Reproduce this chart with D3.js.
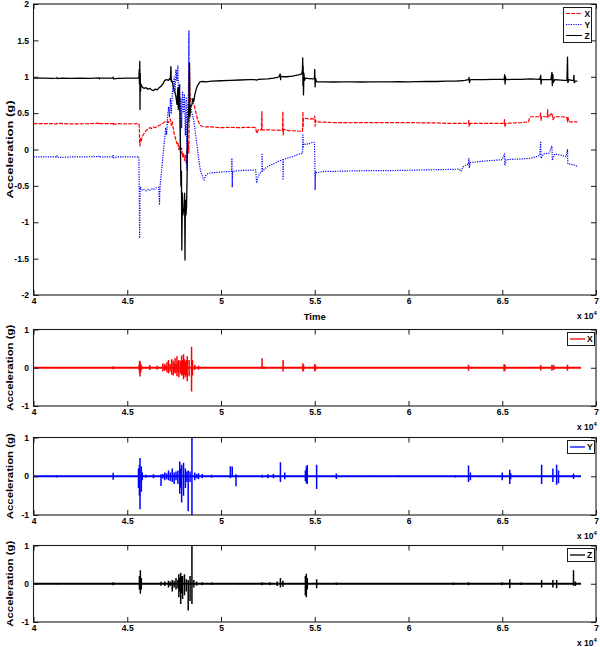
<!DOCTYPE html>
<html><head><meta charset="utf-8">
<script src="https://cdn.jsdelivr.net/npm/d3@7"></script>
<style>
body{margin:0;background:#fff}
svg{display:block}
text{font-family:"Liberation Sans",Arial,Helvetica,sans-serif;font-weight:bold;fill:#000}
</style>
</head><body>
<script>
// ---------------- DATA (time in units of 1e4) ----------------
const xTicks = [4, 4.5, 5, 5.5, 6, 6.5, 7];
const topYTicks = [-2, -1.5, -1, -0.5, 0, 0.5, 1, 1.5, 2];
const smallYTicks = [-1, 0, 1];
const seriesNames = ["X", "Y", "Z"];

// Top plot: raw acceleration, [time, g]
const rawX = [[4.00,0.355],[4.10,0.355],[4.123,0.35],[4.125,0.36],[4.20,0.352],[4.30,0.355],[4.35,0.36],[4.352,0.345],[4.355,0.355],[4.424,0.355],[4.425,0.37],[4.427,0.345],[4.45,0.355],[4.50,0.353],[4.56,0.355],[4.564,0.33],[4.566,0.1],[4.568,0.05],[4.57,0.15],[4.575,0.12],[4.58,0.18],[4.59,0.22],[4.60,0.26],[4.61,0.28],[4.62,0.3],[4.63,0.29],[4.64,0.31],[4.65,0.3],[4.66,0.32],[4.67,0.33],[4.68,0.34],[4.69,0.36],[4.70,0.38],[4.71,0.39],[4.72,0.37],[4.73,0.42],[4.735,0.33],[4.74,0.38],[4.745,0.3],[4.75,0.22],[4.755,0.18],[4.76,0.12],[4.765,0.08],[4.77,0.1],[4.775,0.0],[4.78,0.05],[4.785,-0.05],[4.79,0.02],[4.795,-0.1],[4.80,-0.05],[4.805,-0.15],[4.81,-0.08],[4.815,-0.2],[4.82,0.0],[4.825,0.1],[4.828,-0.05],[4.83,0.3],[4.832,1.18],[4.834,0.8],[4.836,0.65],[4.84,0.7],[4.845,0.68],[4.85,0.66],[4.855,0.62],[4.86,0.58],[4.865,0.52],[4.87,0.46],[4.875,0.42],[4.88,0.38],[4.885,0.35],[4.89,0.33],[4.90,0.32],[4.92,0.31],[4.95,0.31],[5.00,0.3],[5.05,0.305],[5.10,0.3],[5.15,0.305],[5.185,0.3],[5.19,0.22],[5.195,0.25],[5.20,0.27],[5.215,0.27],[5.218,0.52],[5.22,0.27],[5.25,0.27],[5.30,0.265],[5.328,0.26],[5.330,0.52],[5.332,0.2],[5.334,0.28],[5.36,0.26],[5.40,0.255],[5.43,0.25],[5.435,0.25],[5.437,0.52],[5.438,0.3],[5.44,0.43],[5.45,0.43],[5.47,0.42],[5.49,0.42],[5.499,0.42],[5.5,0.46],[5.502,0.32],[5.505,0.4],[5.51,0.38],[5.55,0.375],[5.60,0.37],[5.65,0.37],[5.70,0.368],[5.75,0.37],[5.80,0.37],[5.85,0.37],[5.90,0.368],[5.95,0.37],[6.00,0.37],[6.05,0.368],[6.10,0.365],[6.15,0.365],[6.20,0.36],[6.25,0.36],[6.30,0.36],[6.32,0.36],[6.322,0.4],[6.324,0.32],[6.33,0.36],[6.40,0.36],[6.45,0.36],[6.50,0.36],[6.51,0.36],[6.512,0.41],[6.514,0.31],[6.52,0.36],[6.60,0.37],[6.64,0.38],[6.645,0.43],[6.65,0.45],[6.70,0.45],[6.705,0.5],[6.707,0.4],[6.71,0.45],[6.74,0.45],[6.742,0.55],[6.744,0.44],[6.765,0.5],[6.77,0.41],[6.78,0.45],[6.82,0.45],[6.845,0.44],[6.848,0.38],[6.85,0.45],[6.855,0.38],[6.87,0.38],[6.90,0.38]];

const rawY = [[4.00,-0.1],[4.10,-0.1],[4.123,-0.1],[4.125,-0.085],[4.127,-0.11],[4.20,-0.102],[4.30,-0.1],[4.35,-0.095],[4.352,-0.11],[4.355,-0.1],[4.424,-0.1],[4.425,-0.08],[4.427,-0.115],[4.45,-0.1],[4.55,-0.1],[4.562,-0.1],[4.564,-0.5],[4.566,-1.22],[4.568,-0.6],[4.57,-0.52],[4.58,-0.56],[4.59,-0.55],[4.60,-0.57],[4.61,-0.55],[4.62,-0.56],[4.63,-0.54],[4.64,-0.55],[4.65,-0.53],[4.668,-0.52],[4.672,-0.76],[4.675,-0.5],[4.68,-0.38],[4.685,-0.25],[4.69,-0.1],[4.695,0.05],[4.70,0.15],[4.705,0.3],[4.71,0.2],[4.715,0.45],[4.72,0.58],[4.725,0.45],[4.73,0.7],[4.735,0.5],[4.74,0.75],[4.745,0.9],[4.75,1.0],[4.755,0.8],[4.76,1.1],[4.765,0.95],[4.77,1.15],[4.775,0.6],[4.78,0.9],[4.783,0.1],[4.786,0.7],[4.79,0.3],[4.795,0.8],[4.80,0.5],[4.805,0.75],[4.81,0.2],[4.815,0.72],[4.818,-0.28],[4.822,0.6],[4.826,0.7],[4.829,1.63],[4.831,0.4],[4.835,0.62],[4.84,0.55],[4.845,0.5],[4.85,0.45],[4.855,0.4],[4.86,0.3],[4.865,0.2],[4.87,0.1],[4.875,0.0],[4.88,-0.1],[4.885,-0.2],[4.89,-0.28],[4.895,-0.33],[4.90,-0.36],[4.905,-0.4],[4.91,-0.42],[4.915,-0.38],[4.92,-0.35],[4.93,-0.33],[4.95,-0.32],[5.00,-0.31],[5.05,-0.3],[5.057,-0.3],[5.058,-0.12],[5.06,-0.52],[5.062,-0.3],[5.10,-0.29],[5.15,-0.285],[5.185,-0.28],[5.19,-0.46],[5.195,-0.4],[5.20,-0.36],[5.21,-0.32],[5.218,-0.3],[5.219,-0.05],[5.221,-0.3],[5.24,-0.25],[5.26,-0.22],[5.28,-0.2],[5.30,-0.17],[5.32,-0.15],[5.33,-0.14],[5.331,-0.42],[5.333,-0.14],[5.35,-0.12],[5.38,-0.1],[5.40,-0.08],[5.42,-0.06],[5.435,-0.05],[5.437,0.2],[5.439,0.02],[5.44,0.08],[5.45,0.07],[5.47,0.08],[5.49,0.1],[5.498,0.1],[5.5,-0.05],[5.502,-0.55],[5.504,-0.3],[5.51,-0.32],[5.55,-0.3],[5.60,-0.3],[5.70,-0.295],[5.80,-0.29],[5.90,-0.29],[6.00,-0.285],[6.10,-0.28],[6.20,-0.275],[6.27,-0.27],[6.28,-0.3],[6.29,-0.24],[6.30,-0.22],[6.32,-0.2],[6.322,-0.12],[6.324,-0.25],[6.33,-0.18],[6.40,-0.16],[6.45,-0.15],[6.50,-0.14],[6.512,-0.06],[6.514,-0.22],[6.52,-0.14],[6.60,-0.13],[6.65,-0.12],[6.68,-0.1],[6.70,-0.08],[6.705,0.1],[6.707,-0.12],[6.72,-0.06],[6.75,-0.05],[6.765,0.05],[6.767,-0.15],[6.78,-0.06],[6.82,-0.08],[6.84,-0.1],[6.848,0.0],[6.85,-0.2],[6.86,-0.2],[6.88,-0.21],[6.90,-0.23]];

const rawZ = [[4.00,0.98],[4.05,0.982],[4.10,0.978],[4.123,0.98],[4.125,0.99],[4.127,0.975],[4.15,0.98],[4.20,0.977],[4.25,0.98],[4.30,0.978],[4.35,0.985],[4.352,0.97],[4.355,0.98],[4.40,0.98],[4.424,0.98],[4.425,0.995],[4.427,0.97],[4.45,0.978],[4.50,0.98],[4.55,0.98],[4.562,0.98],[4.564,1.1],[4.565,0.9],[4.567,1.21],[4.568,0.55],[4.569,1.05],[4.571,0.8],[4.573,0.9],[4.58,0.86],[4.59,0.84],[4.60,0.85],[4.61,0.83],[4.62,0.84],[4.63,0.82],[4.64,0.81],[4.65,0.83],[4.66,0.82],[4.67,0.85],[4.68,0.87],[4.69,0.9],[4.70,0.95],[4.71,0.96],[4.72,0.95],[4.728,0.98],[4.73,0.96],[4.733,1.14],[4.735,0.93],[4.74,0.94],[4.745,0.87],[4.75,0.8],[4.755,0.78],[4.76,0.72],[4.765,0.62],[4.77,0.85],[4.772,0.55],[4.775,0.72],[4.778,0.88],[4.78,0.6],[4.783,0.2],[4.786,-0.5],[4.789,-0.3],[4.791,-1.38],[4.794,-0.6],[4.797,-0.9],[4.80,-0.82],[4.803,-0.85],[4.806,-0.6],[4.808,-1.52],[4.810,-0.7],[4.813,-0.9],[4.816,-0.8],[4.819,-0.4],[4.822,0.3],[4.826,0.5],[4.829,0.62],[4.832,1.19],[4.834,0.45],[4.838,0.58],[4.845,0.62],[4.85,0.7],[4.855,0.66],[4.86,0.75],[4.87,0.85],[4.875,0.88],[4.88,0.9],[4.885,0.92],[4.89,0.93],[4.90,0.935],[4.92,0.93],[4.95,0.94],[5.00,0.945],[5.05,0.95],[5.10,0.955],[5.15,0.96],[5.18,0.96],[5.19,0.955],[5.20,0.965],[5.25,0.97],[5.28,0.98],[5.30,0.99],[5.31,1.0],[5.315,1.04],[5.318,0.96],[5.32,1.01],[5.33,1.0],[5.35,1.0],[5.38,1.01],[5.40,1.02],[5.42,1.03],[5.43,1.04],[5.434,1.08],[5.436,1.26],[5.437,0.88],[5.438,1.15],[5.44,0.75],[5.442,1.05],[5.445,0.95],[5.45,0.98],[5.47,0.975],[5.49,0.97],[5.498,0.97],[5.500,1.1],[5.502,0.86],[5.504,0.98],[5.51,0.93],[5.55,0.93],[5.60,0.928],[5.65,0.93],[5.70,0.93],[5.75,0.928],[5.80,0.93],[5.85,0.93],[5.90,0.93],[5.95,0.932],[6.00,0.93],[6.05,0.933],[6.10,0.935],[6.15,0.935],[6.20,0.94],[6.25,0.94],[6.28,0.945],[6.30,0.95],[6.32,0.96],[6.323,0.99],[6.325,0.92],[6.33,0.96],[6.40,0.96],[6.45,0.965],[6.50,0.965],[6.51,0.96],[6.513,1.03],[6.515,0.9],[6.517,1.0],[6.52,0.96],[6.55,0.965],[6.60,0.965],[6.65,0.97],[6.70,0.965],[6.705,1.02],[6.707,0.9],[6.71,0.96],[6.76,0.96],[6.765,1.06],[6.767,0.88],[6.77,1.03],[6.772,0.92],[6.78,0.96],[6.83,0.95],[6.845,0.95],[6.848,1.27],[6.85,0.92],[6.855,0.96],[6.87,0.95],[6.88,0.95],[6.882,1.02],[6.884,0.92],[6.89,0.94],[6.90,0.94]];

// Bottom panels: baseline span and bursts [time, high, low]
const baselineSpan = [4.0, 6.92];
const burstsX = [[4.123,0.02,-0.02],[4.424,0.04,-0.04],[4.563,0.08,-0.06],[4.566,0.18,-0.15],[4.568,0.16,-0.23],[4.572,0.1,-0.12],[4.576,0.05,-0.05],[4.62,0.07,-0.06],[4.66,0.05,-0.05],[4.69,0.12,-0.1],[4.70,0.1,-0.08],[4.706,0.06,-0.06],[4.712,0.15,-0.12],[4.72,0.2,-0.15],[4.728,0.1,-0.1],[4.737,0.22,-0.18],[4.745,0.18,-0.2],[4.75,0.12,-0.12],[4.755,0.25,-0.15],[4.76,0.1,-0.1],[4.765,0.3,-0.22],[4.77,0.15,-0.12],[4.775,0.2,-0.25],[4.783,0.18,-0.15],[4.79,0.32,-0.2],[4.795,0.2,-0.18],[4.80,0.35,-0.3],[4.805,0.22,-0.18],[4.81,0.15,-0.25],[4.815,0.2,-0.2],[4.82,0.3,-0.35],[4.83,0.2,-0.22],[4.843,0.55,-0.62],[4.848,0.2,-0.2],[4.86,0.08,-0.06],[4.88,0.05,-0.05],[5.219,0.25,-0.03],[5.23,0.03,-0.03],[5.331,0.2,-0.1],[5.437,0.12,-0.1],[5.44,0.08,-0.08],[5.50,0.1,-0.1],[5.505,0.06,-0.06],[6.32,0.08,-0.08],[6.51,0.1,-0.1],[6.515,0.07,-0.07],[6.705,0.07,-0.07],[6.765,0.08,-0.08],[6.775,0.07,-0.06],[6.848,0.08,-0.08]];
const burstsY = [[4.123,0.03,-0.03],[4.425,0.09,-0.09],[4.56,0.2,-0.3],[4.565,0.3,-0.5],[4.568,0.47,-0.85],[4.575,0.25,-0.4],[4.58,0.1,-0.1],[4.60,0.04,-0.04],[4.64,0.05,-0.05],[4.68,0.05,-0.25],[4.69,0.06,-0.06],[4.70,0.1,-0.1],[4.71,0.08,-0.08],[4.72,0.15,-0.1],[4.73,0.1,-0.12],[4.74,0.2,-0.15],[4.75,0.1,-0.2],[4.76,0.12,-0.1],[4.77,0.15,-0.2],[4.78,0.38,-0.45],[4.785,0.2,-0.3],[4.79,0.3,-0.68],[4.80,0.35,-0.5],[4.81,0.2,-0.3],[4.818,0.12,-0.15],[4.825,0.15,-0.9],[4.835,0.12,-0.15],[4.845,1.0,-1.0],[4.86,0.1,-0.1],[4.87,0.06,-0.06],[4.88,0.08,-0.08],[4.90,0.06,-0.05],[4.95,0.04,-0.04],[5.05,0.26,-0.05],[5.06,0.25,0],[5.08,0.05,-0.26],[5.22,0.04,-0.04],[5.25,0.05,-0.05],[5.28,0.06,-0.05],[5.317,0.36,-0.15],[5.34,0.1,-0.08],[5.45,0.15,-0.12],[5.455,0.25,-0.18],[5.46,0.29,-0.2],[5.51,0.3,-0.33],[5.615,0.07,-0.07],[5.8,0.02,-0.02],[5.95,0.02,-0.02],[6.25,0.03,-0.03],[6.32,0.28,-0.15],[6.33,0.1,-0.1],[6.50,0.1,-0.1],[6.54,0.17,-0.2],[6.545,0.08,-0.08],[6.71,0.3,-0.2],[6.77,0.2,-0.15],[6.79,0.3,-0.22],[6.80,0.15,-0.18],[6.88,0.07,-0.07]];
const burstsZ = [[4.127,0.02,-0.02],[4.425,0.04,-0.04],[4.565,0.2,-0.15],[4.57,0.35,-0.26],[4.575,0.15,-0.15],[4.68,0.05,-0.05],[4.70,0.06,-0.06],[4.72,0.08,-0.1],[4.73,0.06,-0.06],[4.74,0.1,-0.2],[4.75,0.08,-0.1],[4.76,0.15,-0.15],[4.77,0.1,-0.12],[4.775,0.25,-0.35],[4.78,0.15,-0.2],[4.785,0.29,-0.53],[4.79,0.2,-0.25],[4.795,0.2,-0.4],[4.805,0.25,-0.3],[4.815,0.12,-0.2],[4.825,0.1,-0.7],[4.835,0.2,-0.45],[4.845,1.0,-0.53],[4.855,0.1,-0.1],[4.87,0.06,-0.05],[4.9,0.04,-0.04],[4.95,0.03,-0.03],[5.1,0.02,-0.02],[5.22,0.04,-0.04],[5.26,0.04,-0.04],[5.3,0.06,-0.06],[5.317,0.15,-0.1],[5.33,0.08,-0.08],[5.45,0.2,-0.3],[5.455,0.26,-0.35],[5.46,0.15,-0.15],[5.51,0.12,-0.12],[5.615,0.03,-0.03],[6.24,0.03,-0.03],[6.32,0.04,-0.04],[6.5,0.04,-0.04],[6.54,0.12,-0.12],[6.6,0.03,-0.03],[6.71,0.1,-0.1],[6.77,0.1,-0.1],[6.79,0.1,-0.12],[6.88,0.35,-0.05],[6.89,0.06,-0.06]];

// ---------------- LAYOUT ----------------
const W = 600, H = 647;
const X0 = 33.5, X1 = 596;
const colors = {X: "#ff0000", Y: "#0000ff", Z: "#000000"};
const dashes = {X: "4,1.2", Y: "1.2,1.2", Z: null};
const frameColor = "#1a1a1a";

const svg = d3.select("body").append("svg").attr("width", W).attr("height", H);
const x = d3.scaleLinear().domain([4, 7]).range([X0, X1]);

function drawFrame(g, y, top, bottom, yTicks, labelLen) {
  const fmt = d => String(d);
  g.append("g").attr("transform", `translate(0,${bottom})`)
    .call(d3.axisBottom(x).tickValues(xTicks).tickFormat(fmt).tickSizeInner(-5).tickSizeOuter(0).tickPadding(2.5))
    .call(s => s.select(".domain").remove())
    .call(s => s.selectAll("text").style("font-size", "8.5px").style("font-family", "'Liberation Sans',Arial,sans-serif").style("font-weight", "bold"))
    .call(s => s.selectAll("line").attr("stroke", frameColor));
  g.append("g").attr("transform", `translate(0,${top})`)
    .call(d3.axisTop(x).tickValues(xTicks).tickFormat("").tickSizeInner(-5).tickSizeOuter(0))
    .call(s => s.select(".domain").remove())
    .call(s => s.selectAll("line").attr("stroke", frameColor));
  g.append("g").attr("transform", `translate(${X0},0)`)
    .call(d3.axisLeft(y).tickValues(yTicks).tickFormat(fmt).tickSizeInner(-5).tickSizeOuter(0).tickPadding(4.5))
    .call(s => s.select(".domain").remove())
    .call(s => s.selectAll("text").style("font-size", "8.5px").style("font-family", "'Liberation Sans',Arial,sans-serif").style("font-weight", "bold"))
    .call(s => s.selectAll("line").attr("stroke", frameColor));
  g.append("g").attr("transform", `translate(${X1},0)`)
    .call(d3.axisRight(y).tickValues(yTicks).tickFormat("").tickSizeInner(-5).tickSizeOuter(0))
    .call(s => s.select(".domain").remove())
    .call(s => s.selectAll("line").attr("stroke", frameColor));
  g.append("rect").attr("x", X0).attr("y", top).attr("width", X1 - X0).attr("height", bottom - top)
    .attr("fill", "none").attr("stroke", frameColor).attr("stroke-width", 1.1);
  // x 10^4
  const t = g.append("text").attr("x", 577).attr("y", bottom + 24).style("font-size", "8.5px");
  t.append("tspan").text("x 10");
  t.append("tspan").attr("dy", -4).style("font-size", "6px").text("4");
  // y label
  const cy = (top + bottom) / 2;
  g.append("text").attr("transform", `translate(13,${cy}) rotate(-90)`)
    .attr("text-anchor", "middle").style("font-size", "9.5px")
    .attr("textLength", labelLen).attr("lengthAdjust", "spacingAndGlyphs")
    .text("Acceleration (g)");
}

// ---------------- TOP PLOT ----------------
{
  const top = 4, bottom = 295;
  const y = d3.scaleLinear().domain([-2, 2]).range([bottom, top]);
  const g = svg.append("g");
  svg.append("clipPath").attr("id", "c0").append("rect").attr("x", X0).attr("y", top).attr("width", X1 - X0).attr("height", bottom - top);
  const line = d3.line().x(d => x(d[0])).y(d => y(d[1]));
  const lines = g.append("g").attr("clip-path", "url(#c0)");
  [["X", rawX], ["Y", rawY], ["Z", rawZ]].forEach(([k, data]) => {
    lines.append("path").datum(data).attr("d", line).attr("fill", "none")
      .attr("stroke", colors[k]).attr("stroke-width", k === "Z" ? 1.3 : 1.2)
      .attr("stroke-dasharray", dashes[k]).attr("stroke-linejoin", "round");
  });
  drawFrame(g, y, top, bottom, topYTicks, 98);
  g.append("text").attr("x", (X0 + X1) / 2).attr("y", 320).attr("text-anchor", "middle").style("font-size", "9.5px").text("Time");
  // legend
  const lg = g.append("g");
  lg.append("rect").attr("x", 563.5).attr("y", 7.5).attr("width", 28).attr("height", 35).attr("fill", "#fff").attr("stroke", frameColor);
  seriesNames.forEach((k, i) => {
    const ly = 13.5 + i * 11;
    lg.append("line").attr("x1", 566).attr("x2", 582).attr("y1", ly).attr("y2", ly)
      .attr("stroke", colors[k]).attr("stroke-width", 1).attr("stroke-dasharray", dashes[k]);
    lg.append("text").attr("x", 584.5).attr("y", ly + 3.2).style("font-size", "8.5px").text(k);
  });
}

// ---------------- BOTTOM PANELS ----------------
const panels = [
  {k: "X", top: 329.5, bottom: 406, data: burstsX},
  {k: "Y", top: 437.5, bottom: 515, data: burstsY},
  {k: "Z", top: 545.5, bottom: 622, data: burstsZ}
];
panels.forEach((p, i) => {
  const y = d3.scaleLinear().domain([-1, 1]).range([p.bottom, p.top]);
  const g = svg.append("g");
  svg.append("clipPath").attr("id", "cp" + i).append("rect").attr("x", X0).attr("y", p.top).attr("width", X1 - X0).attr("height", p.bottom - p.top);
  const body = g.append("g").attr("clip-path", `url(#cp${i})`);
  body.append("line").attr("x1", x(baselineSpan[0])).attr("x2", x(baselineSpan[1]))
    .attr("y1", y(0)).attr("y2", y(0)).attr("stroke", colors[p.k]).attr("stroke-width", 1.8);
  body.selectAll("line.b").data(p.data).join("line").attr("class", "b")
    .attr("x1", d => x(d[0])).attr("x2", d => x(d[0]))
    .attr("y1", d => y(d[1])).attr("y2", d => y(d[2]))
    .attr("stroke", colors[p.k]).attr("stroke-width", 1.5);
  drawFrame(g, y, p.top, p.bottom, smallYTicks, 86);
  const lg = g.append("g");
  lg.append("rect").attr("x", 567.5).attr("y", p.top + 3).attr("width", 27).attr("height", 13).attr("fill", "#fff").attr("stroke", frameColor);
  const ly = p.top + 9.5;
  lg.append("line").attr("x1", 570).attr("x2", 585).attr("y1", ly).attr("y2", ly).attr("stroke", colors[p.k]).attr("stroke-width", 1.3);
  lg.append("text").attr("x", 587).attr("y", ly + 3.2).style("font-size", "8.5px").text(p.k);
});
</script>
</body></html>
